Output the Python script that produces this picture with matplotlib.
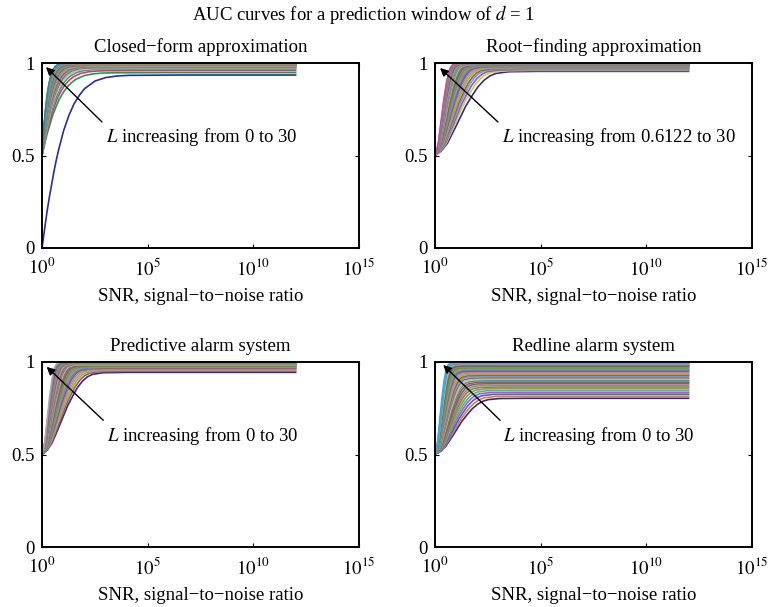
import numpy as np
import matplotlib
matplotlib.use("Agg")
import matplotlib.pyplot as plt

plt.rcParams['font.family'] = ['Liberation Serif', 'DejaVu Serif']
plt.rcParams['mathtext.fontset'] = 'stix'
FS = 13.5

# ---------------- data ----------------
L_values = list(range(0, 31))
L_values_root = [0.6122] + list(range(1, 31))

snr_log10_max = 12.0  # curves end at SNR = 1e12

# normalised rise profiles (fraction of rise vs scaled log10 SNR)
concave_u = [0, 0.1, 0.2, 0.3, 0.4, 0.5, 0.625, 0.75, 0.875, 1.0, 1.25, 1.5, 1.75,
             2.0, 2.5, 3.0, 3.5, 4.0, 6.0]
concave_f = [0, 0.09, 0.18, 0.26, 0.33, 0.40, 0.48, 0.55, 0.61, 0.67, 0.76, 0.83, 0.88,
             0.92, 0.965, 0.985, 0.994, 0.998, 1.0]
sigmoid_u = [0, 0.25, 0.5, 0.75, 1.0, 1.25, 1.5, 1.75, 2.0, 2.25, 2.5, 3.0, 4.0, 6.0]
sigmoid_f = [0, 0.05, 0.14, 0.28, 0.43, 0.58, 0.70, 0.81, 0.89, 0.945, 0.975, 0.995, 1.0, 1.0]

closed_start = [0.0] + [0.5] * 30
closed_plateau = [0.935, 0.948, 0.959, 0.966, 0.971, 0.975, 0.978, 0.981, 0.983, 0.985,
                  0.987, 0.988, 0.989, 0.990, 0.991, 0.992, 0.993, 0.994, 0.995, 0.995,
                  0.996, 0.996, 0.997, 0.997, 0.998, 0.998, 0.998, 0.999, 0.999, 0.999, 1.0]
closed_scale = [1.0, 0.80, 0.72, 0.66, 0.61, 0.57, 0.54, 0.51, 0.48, 0.46, 0.44, 0.42,
                0.40, 0.39, 0.37, 0.36, 0.35, 0.34, 0.33, 0.32, 0.31, 0.30, 0.295, 0.29,
                0.285, 0.28, 0.275, 0.27, 0.265, 0.26, 0.25]

root_start = [0.5] * 31
root_plateau = [0.955, 0.960, 0.964, 0.968, 0.971, 0.974, 0.977, 0.979, 0.981, 0.983,
                0.985, 0.986, 0.988, 0.989, 0.990, 0.991, 0.992, 0.993, 0.994, 0.994,
                0.995, 0.996, 0.996, 0.997, 0.997, 0.998, 0.998, 0.999, 0.999, 0.999, 1.0]
root_scale = [1.15, 1.05, 0.98, 0.92, 0.87, 0.82, 0.78, 0.74, 0.71, 0.68, 0.65, 0.62,
              0.60, 0.58, 0.56, 0.54, 0.52, 0.50, 0.48, 0.47, 0.45, 0.44, 0.42, 0.41,
              0.40, 0.38, 0.37, 0.36, 0.35, 0.33, 0.32]

pred_start = [0.5] * 31
pred_plateau = [0.944, 0.950, 0.955, 0.959, 0.963, 0.966, 0.969, 0.972, 0.975, 0.977,
                0.979, 0.981, 0.983, 0.985, 0.986, 0.988, 0.989, 0.990, 0.991, 0.992,
                0.993, 0.994, 0.995, 0.996, 0.996, 0.997, 0.998, 0.998, 0.999, 0.999, 1.0]
pred_scale = [0.95, 0.89, 0.84, 0.80, 0.76, 0.72, 0.69, 0.66, 0.63, 0.60, 0.58, 0.56,
              0.54, 0.52, 0.50, 0.48, 0.46, 0.45, 0.43, 0.42, 0.40, 0.39, 0.38, 0.36,
              0.35, 0.34, 0.33, 0.31, 0.30, 0.29, 0.27]

red_start = [0.5] * 31
red_plateau = [0.804, 0.815, 0.826, 0.836, 0.846, 0.856, 0.865, 0.874, 0.883, 0.891,
               0.899, 0.907, 0.914, 0.921, 0.928, 0.934, 0.940, 0.946, 0.951, 0.956,
               0.961, 0.966, 0.970, 0.974, 0.978, 0.982, 0.985, 0.988, 0.991, 0.994, 0.998]
red_scale = [1.0, 0.94, 0.89, 0.84, 0.80, 0.76, 0.72, 0.69, 0.66, 0.63, 0.60, 0.58,
             0.55, 0.53, 0.51, 0.49, 0.47, 0.45, 0.43, 0.42, 0.40, 0.38, 0.37, 0.35,
             0.34, 0.32, 0.31, 0.30, 0.28, 0.27, 0.25]

palette = ['#18a048', '#e0307a', '#2aa0a0', '#d8c840', '#8a60b0', '#60a8e0', '#c04848',
           '#78c050', '#a0a0a0', '#e08030', '#4868c0', '#c050c0', '#30c0a8', '#b08850',
           '#609a30', '#e060a0']

titles = ['Closed\u2212form approximation', 'Root\u2212finding approximation',
          'Predictive alarm system', 'Redline alarm system']
annot_texts = ['$L$ increasing from 0 to 30', '$L$ increasing from 0.6122 to 30',
               '$L$ increasing from 0 to 30', '$L$ increasing from 0 to 30']
xlabel = 'SNR, signal\u2212to\u2212noise ratio'
suptitle = 'AUC curves for a prediction window of $d$ = 1'
xtick_vals = [1e0, 1e5, 1e10, 1e15]
xtick_labels = ['$10^{0}$', '$10^{5}$', '$10^{10}$', '$10^{15}$']
ytick_vals = [0, 0.5, 1]
ytick_labels = ['0', '0.5', '1']

panels = [
    (closed_start, closed_plateau, closed_scale, 'concave', '#2e8b8b'),
    (root_start, root_plateau, root_scale, 'sigmoid', '#c050b0'),
    (pred_start, pred_plateau, pred_scale, 'sigmoid', '#c09aa8'),
    (red_start, red_plateau, red_scale, 'sigmoid', '#20b0e0'),
]
# arrow head (log10 snr, auc), arrow tail, text anchor
arrows = [
    ((0.19, 0.978), (2.84, 0.681), (3.03, 0.60)),
    ((0.24, 0.973), (2.98, 0.681), (3.17, 0.60)),
    ((0.22, 0.974), (2.90, 0.685), (3.06, 0.60)),
    ((0.39, 0.984), (3.08, 0.685), (3.22, 0.60)),
]

# ---------------- figure ----------------
fig = plt.figure(figsize=(7.68, 6.07), dpi=100)
W, H = 768, 607
boxes = [(42, 63), (435, 63), (42, 362), (435, 362)]
aw, ah = 317, 185

logs = np.linspace(0, snr_log10_max, 1200)
snr = 10 ** logs

for i, ((x0, y0), (st, pl, sc, shape, topcol)) in enumerate(zip(boxes, panels)):
    ax = fig.add_axes([x0 / W, 1 - (y0 + ah) / H, aw / W, ah / H])
    pu, pf = (concave_u, concave_f) if shape == 'concave' else (sigmoid_u, sigmoid_f)
    n = len(pl)
    for k in range(n):
        f = np.interp(logs / sc[k], pu, pf)
        y = st[k] + (pl[k] - st[k]) * f
        if k == 0:
            c = '#2b2b9c'
        elif k == n - 1:
            c = topcol
        else:
            c = palette[(k - 1 + 3 * i) % len(palette)]
        ax.plot(snr, y, color=c, lw=1.2)
    ax.set_xscale('log')
    ax.set_xlim(1, 1e15)
    ax.set_ylim(0, 1)
    ax.set_xticks(xtick_vals)
    ax.set_xticklabels(xtick_labels)
    ax.minorticks_off()
    ax.set_yticks(ytick_vals)
    ax.set_yticklabels(ytick_labels)
    ax.tick_params(direction='in', length=3, width=0.8, labelsize=FS,
                   top=True, right=True)
    ax.tick_params(axis='x', pad=7)
    ax.tick_params(axis='y', pad=5)
    for s in ax.spines.values():
        s.set_linewidth(1.4)
    ax.set_title(titles[i], fontsize=FS, pad=8)
    ax.set_xlabel(xlabel, fontsize=FS, labelpad=7)
    (hx, hy), (tx, ty), (txx, txy) = arrows[i]
    ax.annotate('', xy=(10 ** hx, hy), xytext=(10 ** tx, ty),
                arrowprops=dict(arrowstyle='-|>', color='k', lw=1.0,
                                mutation_scale=12, shrinkA=0, shrinkB=0))
    ax.text(10 ** txx, txy, annot_texts[i], fontsize=FS, ha='left', va='center')

fig.text(364 / W, 1 - 14 / H, suptitle, fontsize=FS, ha='center', va='center')
fig.savefig('out.png', dpi=100)
